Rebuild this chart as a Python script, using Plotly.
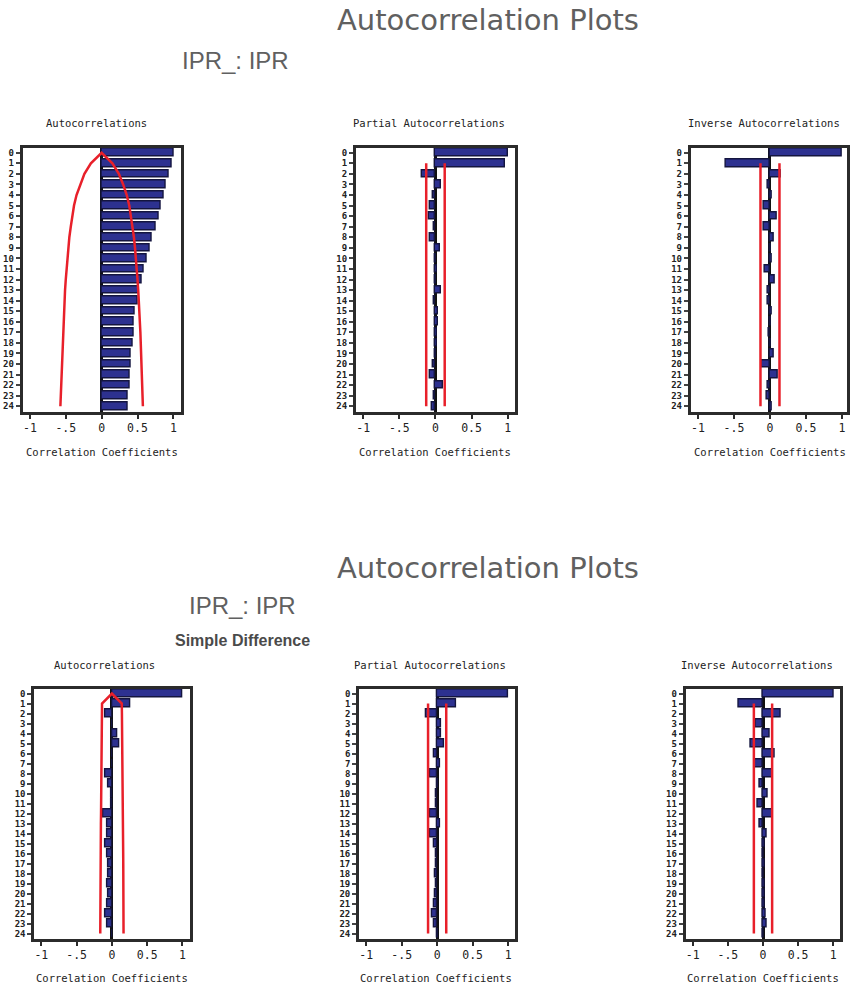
import plotly.graph_objects as go

# ---------------------------------------------------------------------------
# Data: correlation functions of IPR (levels and first differences), lags 0-24
# ---------------------------------------------------------------------------
lags = list(range(25))
lag_labels = [str(k) for k in lags]

x_tick_vals = [-1, -0.5, 0, 0.5, 1]
x_tick_text = ["-1", "-.5", "0", "0.5", "1"]

# Levels
acf_level = [1.00, 0.97, 0.94, 0.90, 0.87, 0.83, 0.79, 0.76, 0.70, 0.67,
             0.63, 0.59, 0.56, 0.51, 0.50, 0.46, 0.45, 0.45, 0.43, 0.41,
             0.41, 0.39, 0.39, 0.37, 0.37]
acf_level_limit = [0.00, 0.15, 0.24, 0.30, 0.35, 0.385, 0.41, 0.43, 0.45, 0.465,
                   0.48, 0.49, 0.50, 0.51, 0.52, 0.53, 0.535, 0.54, 0.545, 0.55,
                   0.555, 0.56, 0.565, 0.57, 0.575]
pacf_level = [1.00, 0.96, -0.18, 0.08, -0.04, -0.07, -0.09, -0.02, -0.07, 0.06,
              0.01, 0.02, 0.01, 0.07, -0.02, 0.04, 0.04, 0.02, 0.02, 0.01,
              -0.04, -0.07, 0.11, -0.02, -0.05]
pacf_level_limit = 0.128
iacf_level = [1.00, -0.62, 0.15, -0.03, 0.02, -0.09, 0.10, -0.09, 0.05, 0.01,
              0.03, -0.07, 0.07, -0.03, -0.03, 0.03, 0.01, -0.02, 0.01, 0.05,
              -0.11, 0.11, -0.03, -0.04, 0.02]
iacf_level_limit = 0.132

# Simple difference
acf_diff = [1.00, 0.26, -0.09, 0.01, 0.07, 0.11, 0.01, 0.01, -0.09, -0.05,
            -0.005, -0.005, -0.12, -0.07, -0.07, -0.10, -0.07, -0.05, -0.05, -0.07,
            -0.05, -0.07, -0.09, -0.07, 0.005]
acf_diff_limit = [0.00, 0.14, 0.142, 0.144, 0.146, 0.148, 0.15, 0.15, 0.152, 0.152,
                  0.153, 0.153, 0.154, 0.156, 0.157, 0.158, 0.16, 0.161, 0.162, 0.162,
                  0.163, 0.163, 0.164, 0.165, 0.165]
pacf_diff = [1.00, 0.27, -0.16, 0.06, 0.06, 0.10, -0.05, 0.04, -0.10, 0.01,
             -0.02, -0.02, -0.10, 0.04, -0.10, -0.05, -0.02, -0.02, -0.03, -0.02,
             -0.03, -0.05, -0.07, -0.05, 0.01]
pacf_diff_limit = 0.128
iacf_diff = [1.00, -0.35, 0.25, -0.11, 0.10, -0.18, 0.17, -0.12, 0.14, -0.04,
             0.07, -0.07, 0.14, -0.05, 0.05, 0.03, 0.01, 0.02, 0.01, 0.02,
             0.02, 0.03, 0.035, 0.05, 0.005]
iacf_diff_limit = 0.13

panel_titles = ["Autocorrelations", "Partial Autocorrelations", "Inverse Autocorrelations"]

# ---------------------------------------------------------------------------
# Layout helpers (pixel geometry of the 850 x 987 page)
# ---------------------------------------------------------------------------
W, H = 850, 987
BAR_FILL = "#2d3190"
BAR_EDGE = "#14153f"
RED = "#e8202a"
FRAME = "#2b2b2b"
TXT = "#222222"
MONO = "DejaVu Sans Mono, monospace"


def px_x(p):
    return p / W


def px_y(p):
    return 1 - p / H


# (zero pixel, pixels per unit, top px, bottom px, upper x limit)
panels = [
    (102.0, 72.0, 147.5, 411.5, 1.1),
    (437.0, 72.5, 147.5, 411.5, 1.1),
    (772.7, 72.2, 147.5, 411.5, 1.07),
    (112.3, 70.8, 688.5, 938.5, 1.1),
    (438.7, 71.2, 688.5, 938.5, 1.1),
    (765.7, 70.5, 688.5, 938.5, 1.1),
]

series = [acf_level, pacf_level, iacf_level, acf_diff, pacf_diff, iacf_diff]

fig = go.Figure()
layout_axes = {}

for i, (p0, unit, top, bot, xmax) in enumerate(panels, start=1):
    xa = "x" if i == 1 else f"x{i}"
    ya = "y" if i == 1 else f"y{i}"
    left_px = p0 - 1.1 * unit
    right_px = p0 + xmax * unit

    fig.add_trace(go.Bar(
        x=series[i - 1], y=lags, orientation="h", width=0.72,
        marker=dict(color=BAR_FILL, line=dict(color=BAR_EDGE, width=1.4)),
        xaxis=xa, yaxis=ya, hoverinfo="x+y",
    ))

    layout_axes["xaxis" if i == 1 else f"xaxis{i}"] = dict(
        domain=[px_x(left_px), min(px_x(right_px), 1.0)],
        range=[-1.1, xmax], anchor=ya,
        tickvals=x_tick_vals, ticktext=x_tick_text,
        ticks="outside", ticklen=4, tickwidth=2, tickcolor=FRAME,
        tickfont=dict(family=MONO, size=11.5, color=TXT),
        showline=True, mirror=True, linewidth=3, linecolor=FRAME,
        showgrid=False, zeroline=True, zerolinecolor="#111111", zerolinewidth=2.5,
        fixedrange=True,
    )
    layout_axes["yaxis" if i == 1 else f"yaxis{i}"] = dict(
        domain=[px_y(bot), px_y(top)],
        range=[24.5, -0.5], anchor=xa,
        tickvals=lags, ticktext=lag_labels,
        ticks="outside", ticklen=4, tickwidth=2, tickcolor="#444444",
        tickfont=dict(family=MONO, size=9, color=TXT, weight="bold"),
        showline=True, mirror=True, linewidth=3, linecolor=FRAME,
        showgrid=False, zeroline=False, fixedrange=True,
    )

# Two-standard-error limits
def add_band_curve(limits, xa, ya):
    xs = [-v for v in reversed(limits)] + list(limits[1:])
    ys = list(reversed(lags)) + lags[1:]
    fig.add_trace(go.Scatter(x=xs, y=ys, mode="lines",
                             line=dict(color=RED, width=2.5),
                             xaxis=xa, yaxis=ya, hoverinfo="skip"))


def add_band_lines(limit, xa, ya):
    for sgn in (-1, 1):
        fig.add_trace(go.Scatter(x=[sgn * limit] * 24, y=lags[1:], mode="lines",
                                 line=dict(color=RED, width=2.5),
                                 xaxis=xa, yaxis=ya, hoverinfo="skip"))


add_band_curve(acf_level_limit, "x", "y")
add_band_lines(pacf_level_limit, "x2", "y2")
add_band_lines(iacf_level_limit, "x3", "y3")
add_band_curve(acf_diff_limit, "x4", "y4")
add_band_lines(pacf_diff_limit, "x5", "y5")
add_band_lines(iacf_diff_limit, "x6", "y6")

# Text
annotations = []


def add_text(text, x, y, size, family, color, weight="normal"):
    annotations.append(dict(
        text=text, x=px_x(x), y=px_y(y), xref="paper", yref="paper",
        xanchor="center", yanchor="middle", showarrow=False,
        font=dict(size=size, family=family, color=color, weight=weight),
    ))


TITLE_GRAY = "#606060"
add_text("Autocorrelation Plots", 490, 20, 29, "DejaVu Sans", TITLE_GRAY)
add_text("IPR_: IPR", 236, 61, 24, "Liberation Sans", TITLE_GRAY)
add_text("Autocorrelation Plots", 490, 568, 29, "DejaVu Sans", TITLE_GRAY)
add_text("IPR_: IPR", 243, 605, 24, "Liberation Sans", TITLE_GRAY)
add_text("Simple Difference", 243, 640, 16, "Liberation Sans", "#4a4a4a", "bold")

for (cx, ty, ly), title in zip([(97, 123, 452), (431, 123, 452), (767, 123, 452)], panel_titles):
    add_text(title, cx, ty, 10.5, MONO, TXT)
    add_text("Correlation Coefficients", cx + 5 if title == "Autocorrelations" else cx + 6, ly, 10.5, MONO, TXT)
for (cx, ty, ly), title in zip([(105, 665, 978), (432, 665, 978), (760, 665, 978)], panel_titles):
    add_text(title, cx, ty, 10.5, MONO, TXT)
    add_text("Correlation Coefficients", cx + 7 if title == "Autocorrelations" else cx + 6, ly, 10.5, MONO, TXT)

fig.update_layout(
    width=W, height=H,
    margin=dict(l=0, r=0, t=0, b=0),
    paper_bgcolor="white", plot_bgcolor="white",
    showlegend=False, bargap=0,
    annotations=annotations,
    **layout_axes,
)

fig.write_html("out.html")
